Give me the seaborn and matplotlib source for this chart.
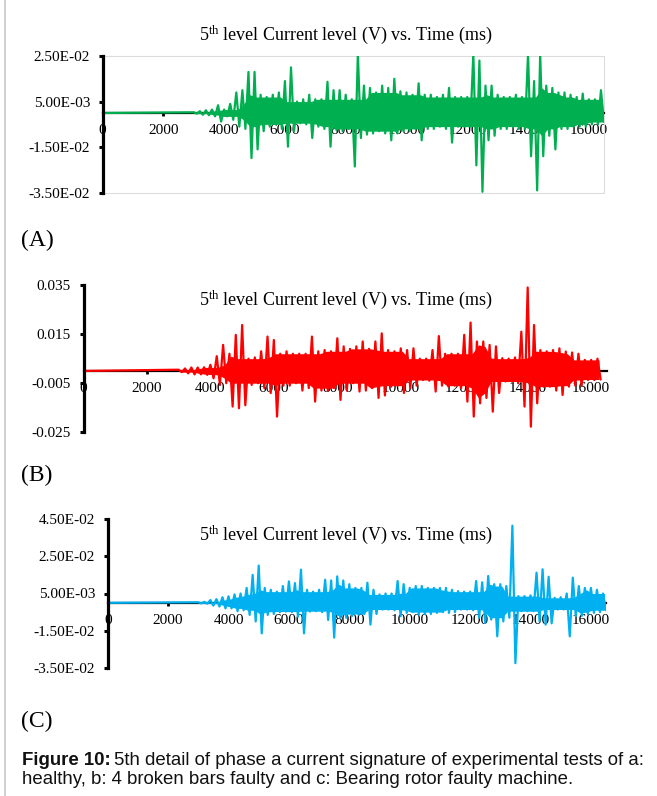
import numpy as np
import pandas as pd
import matplotlib
matplotlib.use("Agg")
import matplotlib.pyplot as plt
import seaborn as sns
from matplotlib.patches import FancyBboxPatch, Rectangle

sns.set_style("white")
plt.rcParams["font.family"] = ["Liberation Serif", "DejaVu Serif"]
plt.rcParams["mathtext.fontset"] = "custom"
plt.rcParams["mathtext.rm"] = "Liberation Serif"
plt.rcParams["mathtext.it"] = "Liberation Serif:italic"

# ---------------- data (mV envelope peaks) ----------------
time_a = list(range(3000, 16401, 200))
up_a = [0.3, 0.8, 1.2, 1.5, 3.4, 1.5, 4, 9, 10, 18,
        18, 8, 7, 8, 9, 14, 20, 5, 6, 8,
        6, 6, 13.7, 10, 10, 8, 6, 26, 12, 11,
        9, 12, 11, 15, 9.5, 9, 8, 13, 8, 8,
        7, 8, 11, 7, 7, 7, 26, 23, 12, 12,
        8, 7, 7, 8, 7, 26, 14, 26, 12, 11,
        9, 9, 8, 7, 8.5, 6, 6, 10]
lo_a = [-0.3, -0.8, -1.0, -1.5, -3.8, -1.5, -3, -6, -7, -19.8,
        -16, -8, -6, -5, -7, -14.8, -8, -4.5, -5, -11,
        -6, -7, -14.8, -7.6, -8, -7, -23.5, -11, -9.5, -9,
        -8, -9, -12, -9, -8, -8, -7, -12, -7, -7,
        -6, -7, -13, -6, -6, -6, -23, -34.6, -12, -10,
        -7, -7, -6, -7, -7, -19, -34, -19, -10, -16,
        -7, -7, -6, -6, -6, -5, -5, -4]

time_b = list(range(3000, 16201, 200))
up_b = [0.5, 1.0, 1.4, 1.4, 1.5, 2.5, 6, 10.6, 7, 14.7,
        18.7, 5, 5.5, 8, 14, 12.6, 7, 8, 7, 7,
        7, 14, 8, 8.5, 8, 13.3, 10, 9, 10, 12,
        9, 12, 15.3, 8.5, 8, 9.2, 8.5, 9.2, 5, 5,
        8.5, 14.2, 7, 7, 7, 14.7, 19.7, 12, 12, 10.6,
        10, 5.2, 5, 5.5, 16, 34, 18.7, 8.5, 8, 8.5,
        9.2, 7.9, 7.5, 7, 4.5, 4.5, 5]
lo_b = [-0.5, -1.0, -1.4, -1.4, -1.6, -3, -5.7, -5, -14.5, -15.2,
        -14, -5.7, -5, -7, -9, -18.6, -6, -6, -5, -8,
        -7, -12.5, -8, -8, -7, -11.8, -8, -5, -8.4, -8,
        -7, -11, -10, -6.4, -6, -9, -7, -6, -3.7, -4,
        -8.4, -6, -6.4, -6, -7, -12.5, -18.6, -13.2, -11, -16.6,
        -9, -4.3, -4.3, -5, -14.5, -22.7, -13.2, -6.4, -6.4, -8,
        -9.8, -6.4, -6, -6, -3.7, -3.7, -3.5]

time_c = list(range(3000, 16401, 200))
up_c = [0.3, 0.5, 1.5, 2, 3, 3.5, 4.5, 5, 8, 15,
        20, 8, 7, 6, 9, 11.5, 10.6, 17.8, 7, 6,
        7, 12.4, 12, 14.2, 12, 10, 8, 8, 10.8, 7,
        4.5, 5, 5, 11.7, 10, 8, 9, 9, 8, 8,
        8, 8, 7, 6.3, 6, 6, 11.7, 11, 14.4, 10,
        10, 9, 41.4, 3.6, 3.6, 4, 16.2, 18, 14, 2.7,
        3, 5, 13.5, 9, 8, 8, 7, 5]
lo_c = [-0.3, -0.5, -1.5, -2, -3, -3, -4.5, -4, -6.5, -10,
        -16.4, -6.5, -6, -5, -4.7, -5, -7.4, -16.4, -4.7, -4.5,
        -5, -9.2, -18.7, -8.3, -8, -7, -6.3, -6, -11.7, -6,
        -3.6, -3.6, -4, -7.2, -5.4, -5, -6.3, -6, -6, -5.4,
        -5, -5.4, -5, -3.6, -3.6, -4, -8, -10.8, -9, -18,
        -10, -8, -32.4, -4.5, -4.5, -4.5, -10, -11.7, -11, -3.6,
        -3.6, -18, -7.2, -7, -6, -5.4, -5, -4]

x_ticks = [0, 2000, 4000, 6000, 8000, 10000, 12000, 14000, 16000]
yt_a = [0.025, 0.005, -0.015, -0.035]
yl_a = ["2.50E-02", "5.00E-03", "-1.50E-02", "-3.50E-02"]
yt_b = [0.035, 0.015, -0.005, -0.025]
yl_b = ["0.035", "0.015", "-0.005", "-0.025"]
yt_c = [0.045, 0.025, 0.005, -0.015, -0.035]
yl_c = ["4.50E-02", "2.50E-02", "5.00E-03", "-1.50E-02", "-3.50E-02"]

title_txt = r"5$^{\mathrm{th}}$ level Current level (V) vs. Time (ms)"


def signal_frame(t, up, lo):
    xs, ys = [0], [0.0]
    for ti, u, l in zip(t, up, lo):
        xs += [ti, ti + 100]
        ys += [u / 1000.0, l / 1000.0]
    return pd.DataFrame({"Time (ms)": xs, "Current (V)": ys})


def core_band(t, up, lo, half=2):
    # dense central part of the trace: the smallest excursion among neighbours
    n = len(t)
    cu, cl = [], []
    for i in range(n):
        j0, j1 = max(0, i - half), min(n, i + half + 1)
        cu.append(min(up[j0:j1]) / 1000.0)
        cl.append(max(lo[j0:j1]) / 1000.0)
    xs = [ti + 50 for ti in t]
    return xs, cu, cl


W, H = 657, 796
fig = plt.figure(figsize=(W / 100, H / 100), dpi=100)

frame = FancyBboxPatch((0.05, -1.0), 10, 9.91,
                       boxstyle="round,pad=0,rounding_size=0.11",
                       transform=fig.dpi_scale_trans, fill=False,
                       ec="#bdbdbd", lw=1.0)
fig.patches.append(frame)


def add_panel(l, r, top, bot, t, up, lo, color, yticks, ylabels, ylim, border):
    ax = fig.add_axes([l / W, 1 - bot / H, (r - l) / W, (bot - top) / H])
    df = signal_frame(t, up, lo)
    sns.lineplot(data=df, x="Time (ms)", y="Current (V)", ax=ax, color=color,
                 linewidth=1.6, estimator=None, sort=False, zorder=3)
    cx, cu, cl = core_band(t, up, lo)
    ax.fill_between(cx, cl, cu, color=color, lw=0, zorder=3)
    ax.set_xlim(0, 16500)
    ax.set_ylim(*ylim)
    ax.set_xlabel("")
    ax.set_ylabel("")
    for s in ["top", "right"]:
        ax.spines[s].set_visible(False)
    ax.spines["bottom"].set_position(("data", 0))
    ax.spines["bottom"].set_color("black")
    ax.spines["bottom"].set_linewidth(1.6)
    ax.spines["bottom"].set_zorder(2)
    ax.spines["left"].set_color("black")
    ax.spines["left"].set_linewidth(2.3)
    ax.spines["left"].set_zorder(4)
    ax.set_xticks(x_ticks)
    ax.set_xticklabels([str(v) for v in x_ticks])
    ax.set_yticks(yticks)
    ax.set_yticklabels(ylabels)
    ax.tick_params(axis="x", direction="out", length=2.2, width=2.0,
                   pad=5.5, labelsize=11, colors="black", bottom=True)
    ax.tick_params(axis="y", direction="out", length=3.0, width=2.2,
                   pad=6.0, labelsize=11, colors="black", left=True)
    ax.grid(False)
    ax.set_facecolor("none")
    if border:
        ax.add_patch(Rectangle((0, 0), 1, 1, transform=ax.transAxes,
                               fill=False, ec="#dcdcdc", lw=0.8, zorder=1,
                               clip_on=False))
    return ax


add_panel(102.6, 604, 56, 192.7, time_a, up_a, lo_a,
          "#00b050", yt_a, yl_a, (-0.035, 0.025), True)
add_panel(83.5, 607, 285, 432.3, time_b, up_b, lo_b,
          "#ff0000", yt_b, yl_b, (-0.025, 0.035), False)
add_panel(107.7, 606, 519, 668, time_c, up_c, lo_c,
          "#00b0f0", yt_c, yl_c, (-0.035, 0.045), False)

for ty in (35, 300, 535):
    fig.text(345.6 / W, 1 - ty / H, title_txt, ha="center", va="center",
             fontsize=13, color="black")

for lab, ly in (("(A)", 240), ("(B)", 475), ("(C)", 721)):
    fig.text(21 / W, 1 - ly / H, lab, ha="left", va="center",
             fontsize=17, color="black")

cap_font = ["Liberation Sans", "DejaVu Sans"]
cap_size = 13.4
t1 = fig.text(21.5 / W, 1 - 765 / H, "Figure 10:", ha="left", va="baseline",
              fontsize=cap_size, fontweight="bold", family=cap_font, color="#111111")
fig.canvas.draw()
bb = t1.get_window_extent(renderer=fig.canvas.get_renderer())
fig.text((bb.x1 + 4) / W, 1 - 765 / H,
         "5th detail of phase a current signature of experimental tests of a:",
         ha="left", va="baseline", fontsize=cap_size, family=cap_font, color="#111111")
fig.text(21.5 / W, 1 - 784 / H,
         "healthy, b: 4 broken bars faulty and c: Bearing rotor faulty machine.",
         ha="left", va="baseline", fontsize=cap_size, family=cap_font, color="#111111")

fig.savefig("out.png", dpi=100, facecolor="white")
